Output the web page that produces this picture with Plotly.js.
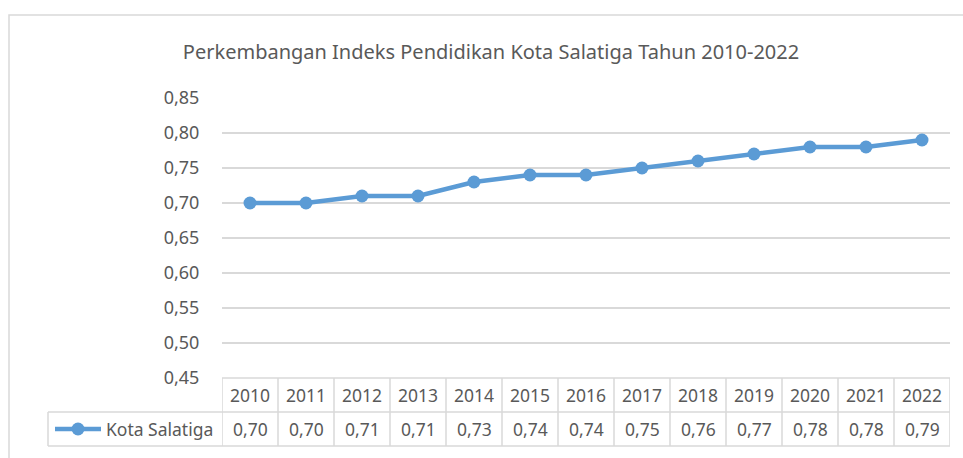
<!DOCTYPE html>
<html>
<head>
<meta charset="utf-8">
<script src="https://cdn.plot.ly/plotly-3.0.1.min.js"></script>
<style>html,body{margin:0;padding:0;background:#fff;}#chart{width:963px;height:458px;}</style>
</head>
<body>
<div id="chart"></div>
<script>
var years = [2010, 2011, 2012, 2013, 2014, 2015, 2016, 2017, 2018, 2019, 2020, 2021, 2022];
var values = [0.70, 0.70, 0.71, 0.71, 0.73, 0.74, 0.74, 0.75, 0.76, 0.77, 0.78, 0.78, 0.79];
var seriesName = 'Kota Salatiga';
var yTicks = [0.45, 0.50, 0.55, 0.60, 0.65, 0.70, 0.75, 0.80, 0.85];
var chartTitle = 'Perkembangan Indeks Pendidikan Kota Salatiga Tahun 2010-2022';

var W = 963, H = 458;
var mL = 222, mR = 13, mT = 98, mB = 80;
var plotW = W - mL - mR, plotH = H - mT - mB;
var rowH = 34;
var r1 = -rowH / plotH, r2 = -2 * rowH / plotH;
var legendLeft = (48 - mL) / plotW;
var FONT = 'Noto Sans, sans-serif';
var TXT = '#595959';
var GRID = '#d9d9d9';
var BLUE = '#5b9bd5';

var first = years[0] - 0.5, last = years[years.length - 1] + 0.5;

var shapes = [];
var annotations = [];

// outer chart frame
shapes.push({type: 'rect', xref: 'paper', yref: 'paper',
  x0: (9 - mL) / plotW, x1: (975 - mL) / plotW,
  y0: -0.5, y1: (mT + plotH - 15) / plotH,
  line: {color: GRID, width: 1.5}, fillcolor: 'rgba(0,0,0,0)', layer: 'below'});

// table horizontal lines
shapes.push({type: 'line', xref: 'x', yref: 'paper', x0: first, x1: last, y0: 0, y1: 0, line: {color: GRID, width: 1.5}});
shapes.push({type: 'line', xref: 'paper', yref: 'paper', x0: legendLeft, x1: 1, y0: r1, y1: r1, line: {color: GRID, width: 1.5}});
shapes.push({type: 'line', xref: 'paper', yref: 'paper', x0: legendLeft, x1: 1, y0: r2, y1: r2, line: {color: GRID, width: 1.5}});
// vertical lines
for (var i = 0; i <= years.length; i++) {
  shapes.push({type: 'line', xref: 'x', yref: 'paper', x0: first + i, x1: first + i, y0: 0, y1: r2, line: {color: GRID, width: 1.5}});
}
shapes.push({type: 'line', xref: 'paper', yref: 'paper', x0: legendLeft, x1: legendLeft, y0: r1, y1: r2, line: {color: GRID, width: 1.5}});

// legend key in table
var ky = (r1 + r2) / 2;
shapes.push({type: 'line', xref: 'paper', yref: 'paper', x0: (55 - mL) / plotW, x1: (101 - mL) / plotW, y0: ky, y1: ky, line: {color: BLUE, width: 4.5}});
var cx = (78 - mL) / plotW, rad = 6.5;
shapes.push({type: 'circle', xref: 'paper', yref: 'paper', x0: cx - rad / plotW, x1: cx + rad / plotW, y0: ky - rad / plotH, y1: ky + rad / plotH, line: {color: BLUE, width: 0}, fillcolor: BLUE});
annotations.push({xref: 'paper', yref: 'paper', x: (104 - mL) / plotW, y: ky, xanchor: 'left', yanchor: 'middle', showarrow: false,
  text: seriesName, font: {family: FONT, size: 17.5, color: TXT}});

for (var j = 0; j < years.length; j++) {
  annotations.push({xref: 'x', yref: 'paper', x: years[j], y: r1 / 2, xanchor: 'center', yanchor: 'middle', showarrow: false,
    text: String(years[j]), font: {family: FONT, size: 17.5, color: TXT}});
  annotations.push({xref: 'x', yref: 'paper', x: years[j], y: ky, xanchor: 'center', yanchor: 'middle', showarrow: false,
    text: values[j].toFixed(2).replace('.', ','), font: {family: FONT, size: 17.5, color: TXT}});
}

var trace = {
  x: years, y: values, name: seriesName, type: 'scatter', mode: 'lines+markers',
  line: {color: BLUE, width: 4.5},
  marker: {color: BLUE, size: 13},
  cliponaxis: false
};

var layout = {
  width: W, height: H,
  margin: {l: mL, r: mR, t: mT, b: mB},
  paper_bgcolor: '#fff', plot_bgcolor: '#fff',
  separators: ',.',
  showlegend: false,
  title: {text: chartTitle, font: {family: FONT, size: 20, color: TXT},
    xref: 'container', x: 491 / W, xanchor: 'center', yref: 'container', y: 1 - 52 / H, yanchor: 'middle'},
  xaxis: {range: [first, last], showgrid: false, zeroline: false, showticklabels: false, showline: false, ticks: '', fixedrange: true},
  yaxis: {range: [0.45, 0.85], tickvals: yTicks, tickformat: '.2f', showgrid: true, gridcolor: GRID, gridwidth: 1.5,
    zeroline: false, showline: false, ticks: 'outside', ticklen: 18, tickcolor: 'rgba(0,0,0,0)',
    tickfont: {family: FONT, size: 18, color: TXT}, fixedrange: true},
  shapes: shapes,
  annotations: annotations
};

Plotly.newPlot('chart', [trace], layout, {displayModeBar: false, staticPlot: true});
</script>
</body>
</html>
